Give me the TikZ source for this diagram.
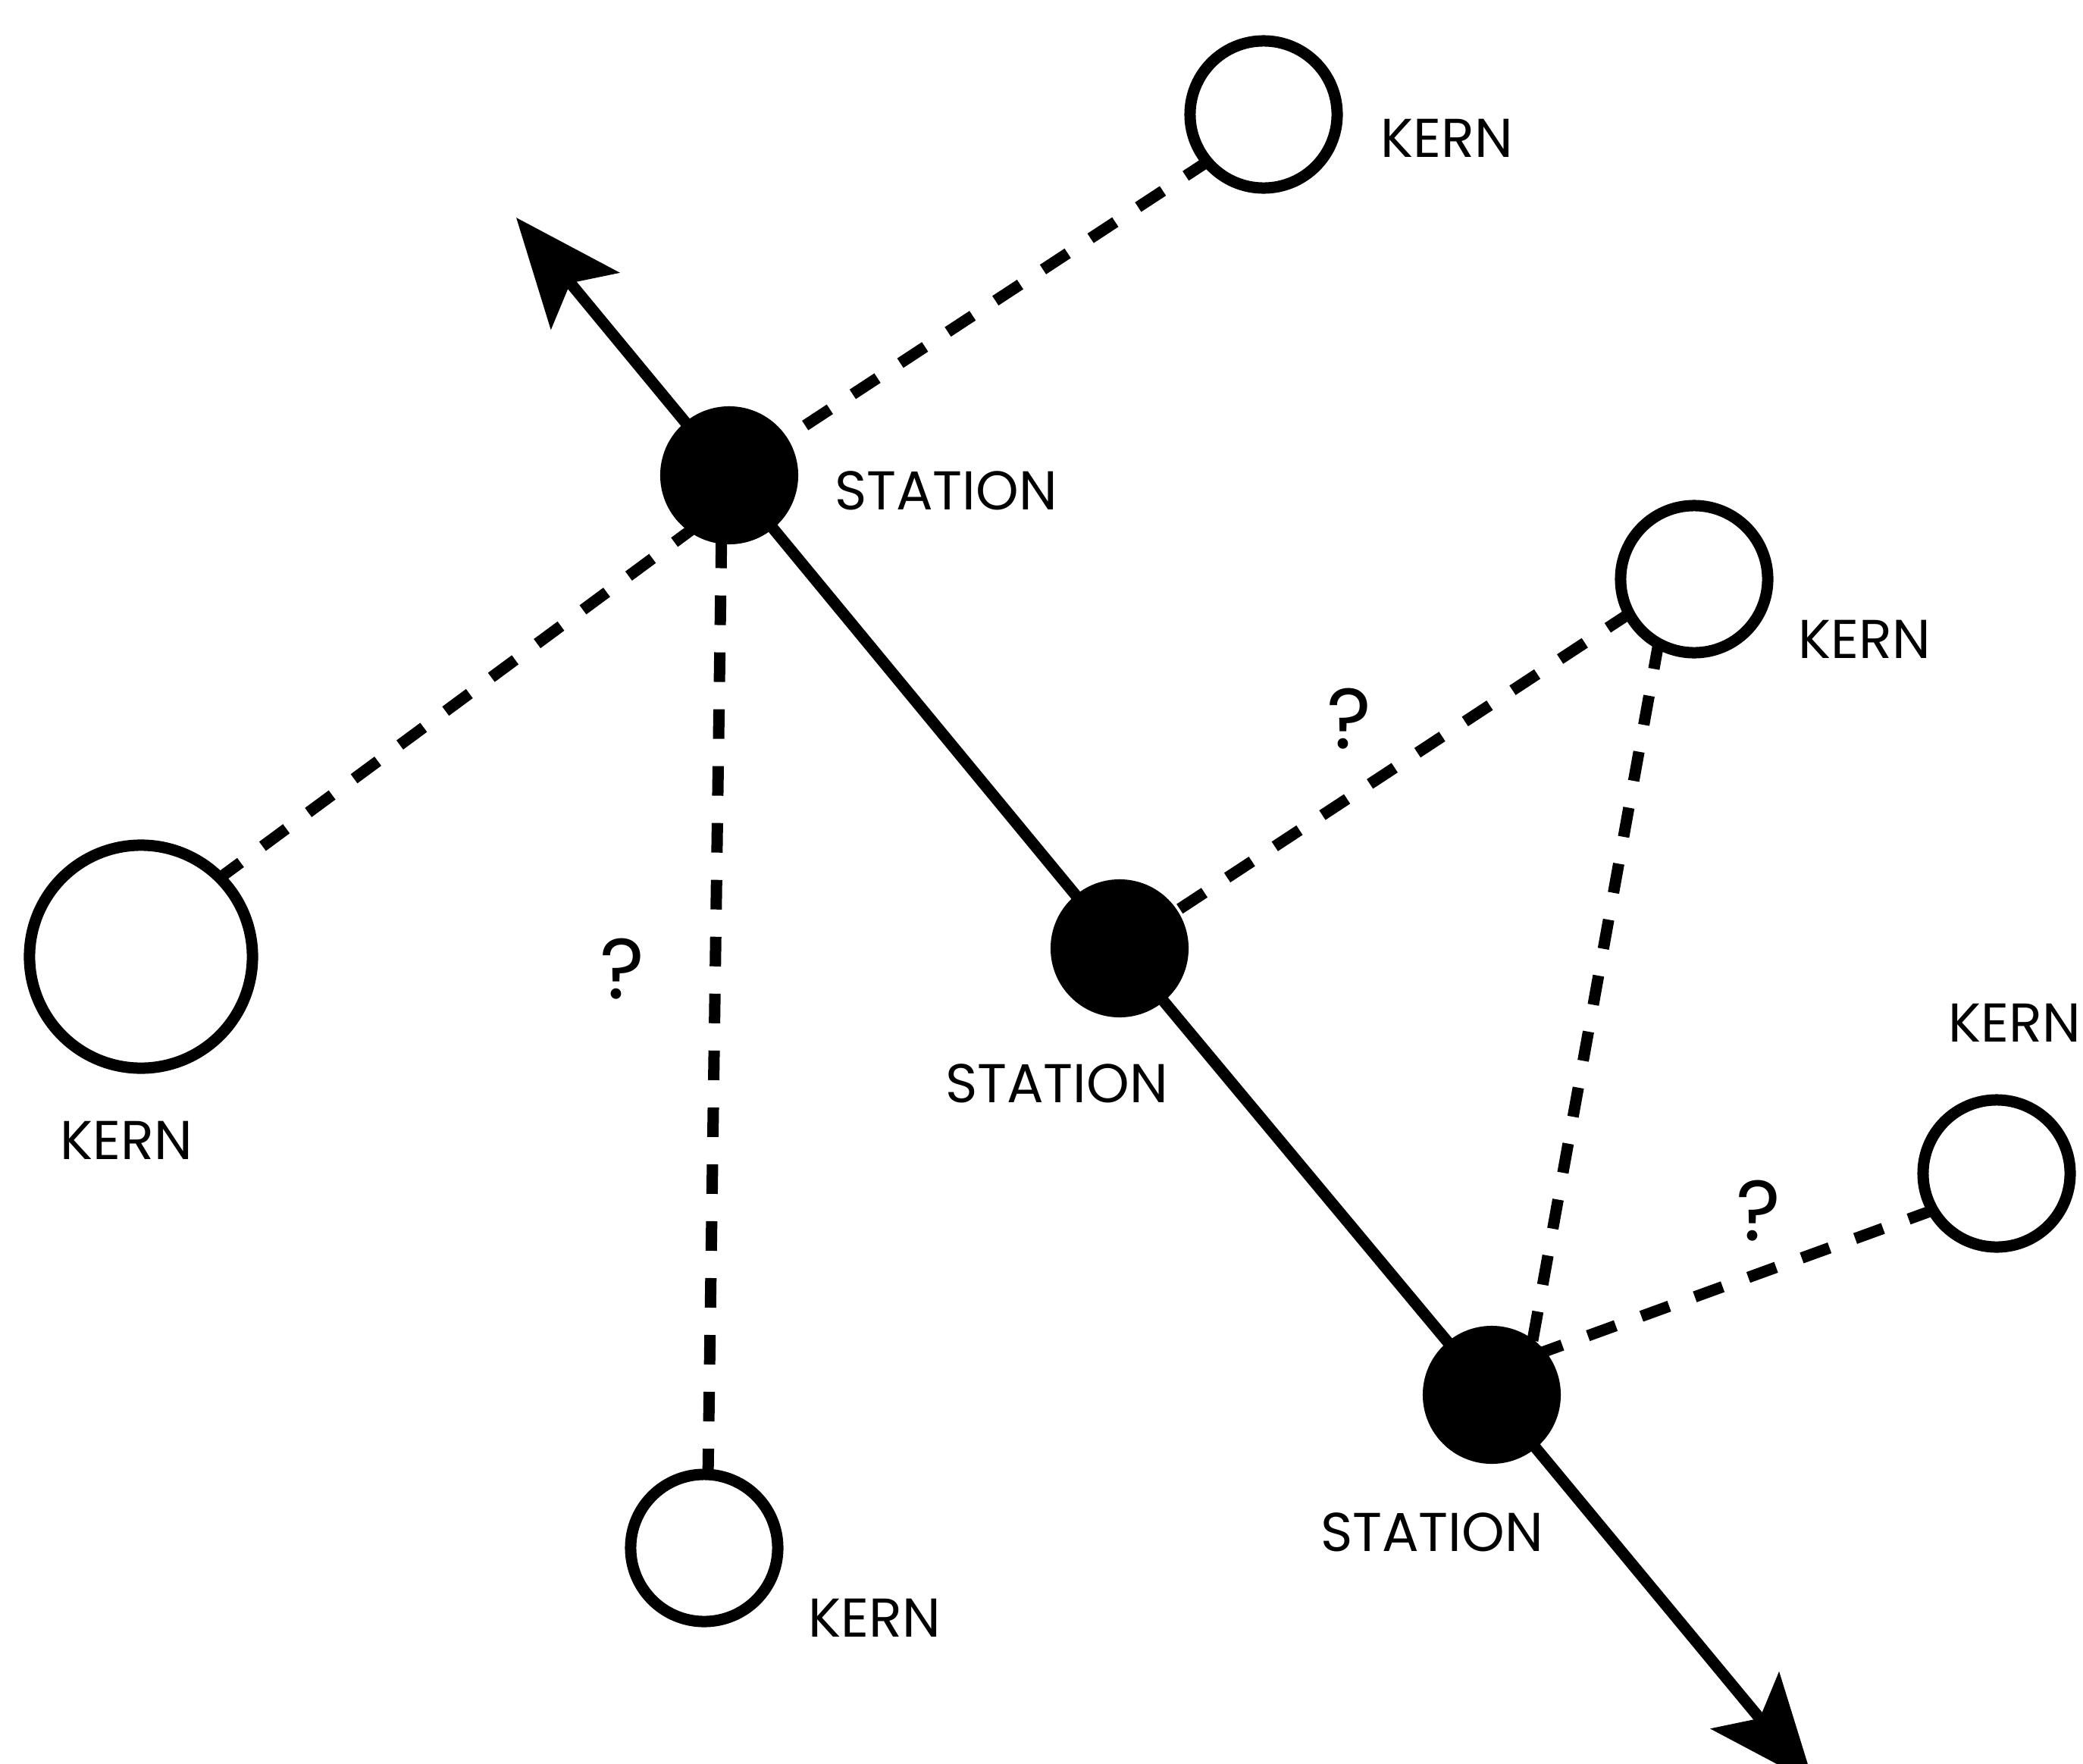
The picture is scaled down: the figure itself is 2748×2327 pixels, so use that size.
\documentclass[tikz,border=0pt]{standalone}
\usepackage{fontspec}
\setmainfont{Poppins}
\usetikzlibrary{arrows.meta,calc}
\pgfdeclarelayer{bg}
\pgfsetlayers{bg,main}
\begin{document}
\begin{tikzpicture}[x=0.01cm,y=-0.01cm,
  station/.style={circle,fill=black,inner sep=0pt,outer sep=0pt,minimum size=1.82cm},
  kern/.style={circle,draw=black,fill=white,line width=0.15cm,inner sep=0pt,outer sep=0pt,minimum size=1.94cm},
  bigkern/.style={kern,minimum size=2.94cm},
  lbl/.style={font=\fontsize{20.5}{24}\selectfont,inner sep=0pt},
  qlbl/.style={font=\fontsize{32}{36}\selectfont,inner sep=0pt},
  track/.style={line width=0.15cm},
  tracktip/.style={track,-{Stealth[length=1.42cm,width=1.16cm,inset=0.30cm]}},
  link/.style={line width=0.15cm,dash pattern=on 0.39cm off 0.36cm,dash phase=0.05cm}
]
\useasboundingbox (0,0) rectangle (2748,2327);

% stations
\node[station] (s1) at (962,627) {};
\node[station] (s2) at (1477,1251) {};
\node[station] (s3) at (1968,1840) {};

% kerns
\node[kern] (kt) at (1667,151) {};
\node[bigkern] (kl) at (186,1262) {};
\node[kern] (krm) at (2235,764) {};
\node[kern] (kfr) at (2634,1548) {};
\node[kern] (kb) at (929,2042) {};

% arrow ends
\coordinate (tipA) at (681,287);
\coordinate (tipB) at (2393,2353);
\coordinate (s3join) at ($(s3.center)+(50,-50)$);

% labels
\node[lbl] (ls1) at (1248,647) {STATION};
\node[lbl] (ls2) at (1394,1429) {STATION};
\node[lbl] (ls3) at (1889,2021) {STATION};
\node[lbl] (lkt) at (1909,182) {KERN};
\node[lbl] (lkl) at (167,1504) {KERN};
\node[lbl] (lkrm) at (2460,843) {KERN};
\node[lbl] (lkfr) at (2658,1349) {KERN};
\node[lbl] (lkb) at (1154,2134) {KERN};
\node[qlbl] (q1) at (821,1278) {?};
\node[qlbl] (q2) at (1780,948) {?};
\node[qlbl] (q3) at (2320,1597) {?};

\begin{pgfonlayer}{bg}
\fill[white] (0,0) rectangle (2748,2327);
\draw[link] (kt.220) -- (s1.center);
\draw[link] (kl.45) -- ($(s1.center)+(0,35)$);
\draw[link] (kb.87) -- ($(s1.center)+(-9,0)$);
\draw[link] (krm.208) -- (s2.center);
\draw[link] (krm.241) -- (s3join);
\draw[link] (kfr.210) -- (s3join);
\draw[track] (s1.center) -- (s2.center) -- (s3.center);
\draw[tracktip] (s1.center) -- (tipA);
\draw[tracktip] (s3.center) -- (tipB);
\end{pgfonlayer}
\end{tikzpicture}
\end{document}
